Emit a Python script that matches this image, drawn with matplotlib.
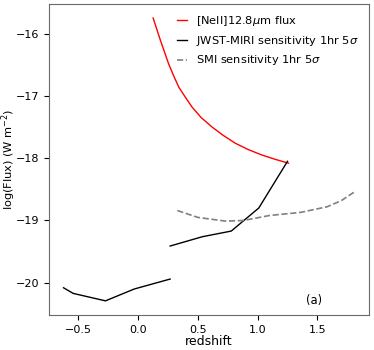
import matplotlib
matplotlib.use('Agg')
import matplotlib.pyplot as plt

# [NeII] 12.8um line flux vs redshift
z_neii = [0.128, 0.16, 0.189, 0.22, 0.258, 0.30, 0.342, 0.40, 0.453, 0.53, 0.62, 0.71,
          0.814, 0.92, 1.037, 1.15, 1.258]
f_neii = [-15.75, -15.94, -16.11, -16.28, -16.49, -16.68, -16.86, -17.03, -17.18, -17.35,
          -17.50, -17.63, -17.76, -17.86, -17.95, -18.02, -18.08]

# JWST-MIRI sensitivity (two pieces)
z_miri1 = [-0.62, -0.54, -0.27, -0.03, 0.27]
f_miri1 = [-20.08, -20.17, -20.29, -20.10, -19.94]
z_miri2 = [0.27, 0.54, 0.78, 1.01, 1.25]
f_miri2 = [-19.41, -19.26, -19.17, -18.80, -18.05]

# SMI sensitivity
z_smi = [0.33, 0.50, 0.73, 0.88, 1.10, 1.36, 1.58, 1.70, 1.81]
f_smi = [-18.84, -18.95, -19.01, -19.00, -18.92, -18.87, -18.78, -18.68, -18.54]

fig = plt.figure(figsize=(3.74, 3.5), dpi=100)
ax = fig.add_axes([0.131, 0.10, 0.856, 0.889])

ax.plot(z_neii, f_neii, color='red', lw=1, label=r'[NeII]12.8$\mu$m flux')
ax.plot(z_miri1, f_miri1, color='black', lw=1, label=r'JWST-MIRI sensitivity 1hr 5$\sigma$')
ax.plot(z_miri2, f_miri2, color='black', lw=1)
ax.plot(z_smi, f_smi, color='gray', lw=1.2, ls='--', label=r'SMI sensitivity 1hr 5$\sigma$')

ax.set_xlabel('redshift', fontsize=9, labelpad=0)
ax.set_ylabel(r'log(Flux) (W m$^{-2}$)', fontsize=8.2)
ax.yaxis.set_label_coords(-0.097, 0.5)
ax.tick_params(labelsize=8)
ax.set_xticks([-0.5, 0.0, 0.5, 1.0, 1.5])
ax.set_yticks([-20, -19, -18, -17, -16])
for s in ax.spines.values():
    s.set_color('dimgray')

ax.legend(loc='upper right', frameon=False, fontsize=8.2, handlelength=0.9)
ax.text(0.828, 0.047, '(a)', transform=ax.transAxes, ha='center', va='center', fontsize=8.3)

fig.savefig('out.png', dpi=100)
